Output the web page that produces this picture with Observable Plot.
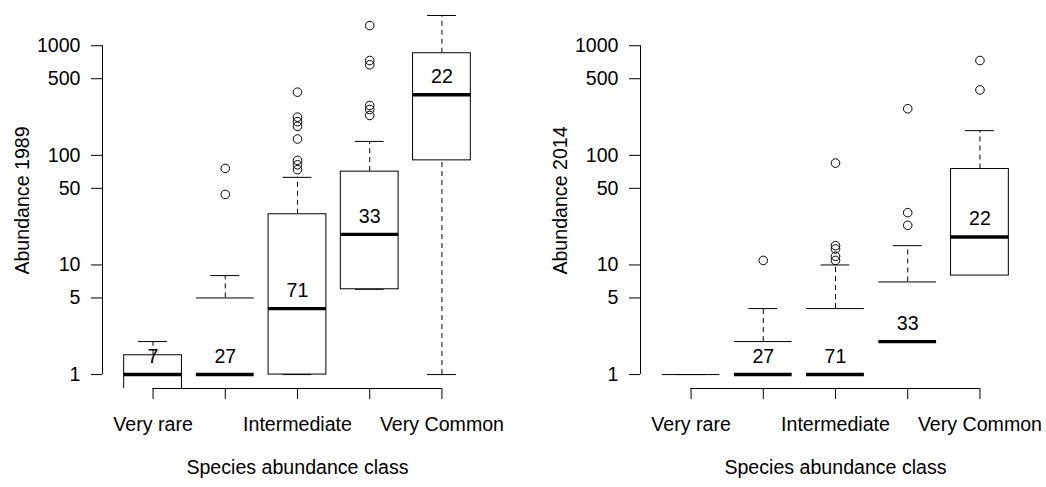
<!DOCTYPE html>
<html>
<head>
<meta charset="utf-8">
<script src="https://cdn.jsdelivr.net/npm/d3@7"></script>
<script src="https://cdn.jsdelivr.net/npm/@observablehq/plot@0.6"></script>
<style>
  body { margin: 0; background: #fff; }
  #chart { display: flex; width: 1046px; height: 487px; }
</style>
</head>
<body>
<div id="chart"></div>
<script>
// Species abundance classes and the number of species in each
const classes = ["Very rare", "Rare", "Intermediate", "Common", "Very Common"];
const shownLabels = ["Very rare", "Intermediate", "Very Common"];
const counts = [7, 27, 71, 33, 22];
const yTicks = [1, 5, 10, 50, 100, 500, 1000];
const yLimits = [1, 1500];
const xTitle = "Species abundance class";

// 1989 five-number summaries (0 = absent; it falls off the log axis)
const low1989 = [0, 0, 1, 6, 1];
const q1_1989 = [0.5, 0, 1, 6, 90];
const med1989 = [1, 1, 4, 19, 357];
const q3_1989 = [1.5, 5, 29, 71, 854];
const high1989 = [2, 8, 63, 134, 1888];
const out1989 = [[], [44, 76], [74, 82, 90, 141, 184, 203, 223, 377], [231, 262, 285, 670, 733, 1528], []];

// 2014 five-number summaries
const low2014 = [0, 0, 0, 0, 0];
const q1_2014 = [0, 0, 0, 0, 8];
const med2014 = [0, 1, 1, 2, 18];
const q3_2014 = [1, 2, 4, 7, 75];
const high2014 = [1, 4, 10, 15, 168];
const out2014 = [[], [11], [11, 12, 14, 15, 85], [23, 30, 266], [395, 733]];

const FONT = "'Liberation Sans', Arial, Helvetica, sans-serif";
const FS = 19.6;
const TICK = 11;            // tick length, px
const boxHalf = 0.4;        // half of box width, in category units
const stapleHalf = 0.2;     // half of whisker cap width

// R-style axis ranges: data range widened by 4% on each side
const xDomain = [1 - 0.5 - 0.04 * classes.length, classes.length + 0.5 + 0.04 * classes.length];
const ly = yLimits.map(Math.log10);
const ext = 0.04 * (ly[1] - ly[0]);
const yDomain = [Math.pow(10, ly[0] - ext), Math.pow(10, ly[1] + ext)];

function rowsFor(low, q1, med, q3, high) {
  return classes.map((cls, i) => ({
    pos: i + 1, cls, n: counts[i],
    low: low[i], q1: q1[i], med: med[i], q3: q3[i], high: high[i]
  }));
}
function outliersFor(out) {
  return out.flatMap((vals, i) => vals.map(v => ({pos: i + 1, value: v})));
}

function panel(rows, outliers, yTitle, marginLeft, marginRight) {
  const width = 523;
  return Plot.plot({
    width, height: 487,
    marginLeft, marginRight, marginTop: 12, marginBottom: 99,
    style: {fontFamily: FONT, fontSize: FS + "px", color: "black", background: "white", overflow: "visible"},
    x: {type: "linear", domain: xDomain},
    y: {type: "log", domain: yDomain, axis: null},
    marks: [
      // y axis: line from first to last tick, ticks and horizontal labels
      Plot.ruleX([xDomain[0]], {x: d => d, y1: yTicks[0], y2: yTicks[yTicks.length - 1], stroke: "black"}),
      Plot.ruleY(yTicks, {y: d => d, x1: xDomain[0], x2: xDomain[0], insetLeft: -TICK, stroke: "black"}),
      Plot.text(yTicks, {y: d => d, frameAnchor: "left", text: d => String(d), textAnchor: "end", dx: -(TICK + 11), fontSize: FS, fill: "black"}),
      // x axis: line from first to last category
      Plot.ruleY([yDomain[0]], {y: d => d, x1: 1, x2: classes.length, stroke: "black"}),
      Plot.axisX(classes.map((_, i) => i + 1), {
        tickSize: TICK, tickPadding: 18, label: null, fontSize: FS,
        tickFormat: p => shownLabels.includes(classes[p - 1]) ? classes[p - 1] : ""
      }),
      // whiskers
      Plot.ruleX(rows.filter(d => d.q3 > 0 && d.high > d.q3), {x: "pos", y1: "q3", y2: "high", stroke: "black", strokeDasharray: "5,4"}),
      Plot.ruleX(rows.filter(d => d.low > 0 && d.low < d.q1), {x: "pos", y1: "low", y2: "q1", stroke: "black", strokeDasharray: "5,4"}),
      Plot.ruleY(rows.filter(d => d.high > 0), {y: "high", x1: d => d.pos - stapleHalf, x2: d => d.pos + stapleHalf, stroke: "black"}),
      Plot.ruleY(rows.filter(d => d.low > 0), {y: "low", x1: d => d.pos - stapleHalf, x2: d => d.pos + stapleHalf, stroke: "black"}),
      // boxes
      Plot.rect(rows.filter(d => d.q1 > 0), {
        x1: d => d.pos - boxHalf, x2: d => d.pos + boxHalf, y1: "q1", y2: "q3",
        fill: "white", stroke: "black", clip: true
      }),
      // upper hinge of boxes whose lower hinge is zero
      Plot.ruleY(rows.filter(d => !(d.q1 > 0) && d.q3 > 0), {y: "q3", x1: d => d.pos - boxHalf, x2: d => d.pos + boxHalf, stroke: "black"}),
      // medians
      Plot.ruleY(rows.filter(d => d.med > 0), {y: "med", x1: d => d.pos - boxHalf, x2: d => d.pos + boxHalf, stroke: "black", strokeWidth: 3.4}),
      // outliers
      Plot.dot(outliers, {x: "pos", y: "value", r: 4.3, stroke: "black", fill: "none", strokeWidth: 1}),
      // species counts above the medians
      Plot.text(rows.filter(d => d.med > 0), {x: "pos", y: "med", text: d => String(d.n), dy: -18, fontSize: FS, fill: "black"}),
      // axis titles
      Plot.text([xTitle], {frameAnchor: "bottom", text: d => d, dy: 85, fontSize: FS, fill: "black", textAnchor: "middle"}),
      Plot.text([yTitle], {frameAnchor: "left", text: d => d, rotate: -90, dx: -80, fontSize: FS, fill: "black", textAnchor: "middle"})
    ]
  });
}

const chart = document.getElementById("chart");
chart.append(panel(rowsFor(low1989, q1_1989, med1989, q3_1989, high1989), outliersFor(out1989), "Abundance 1989", 102, 31));
chart.append(panel(rowsFor(low2014, q1_2014, med2014, q3_2014, high2014), outliersFor(out2014), "Abundance 2014", 117, 16));
</script>
</body>
</html>
